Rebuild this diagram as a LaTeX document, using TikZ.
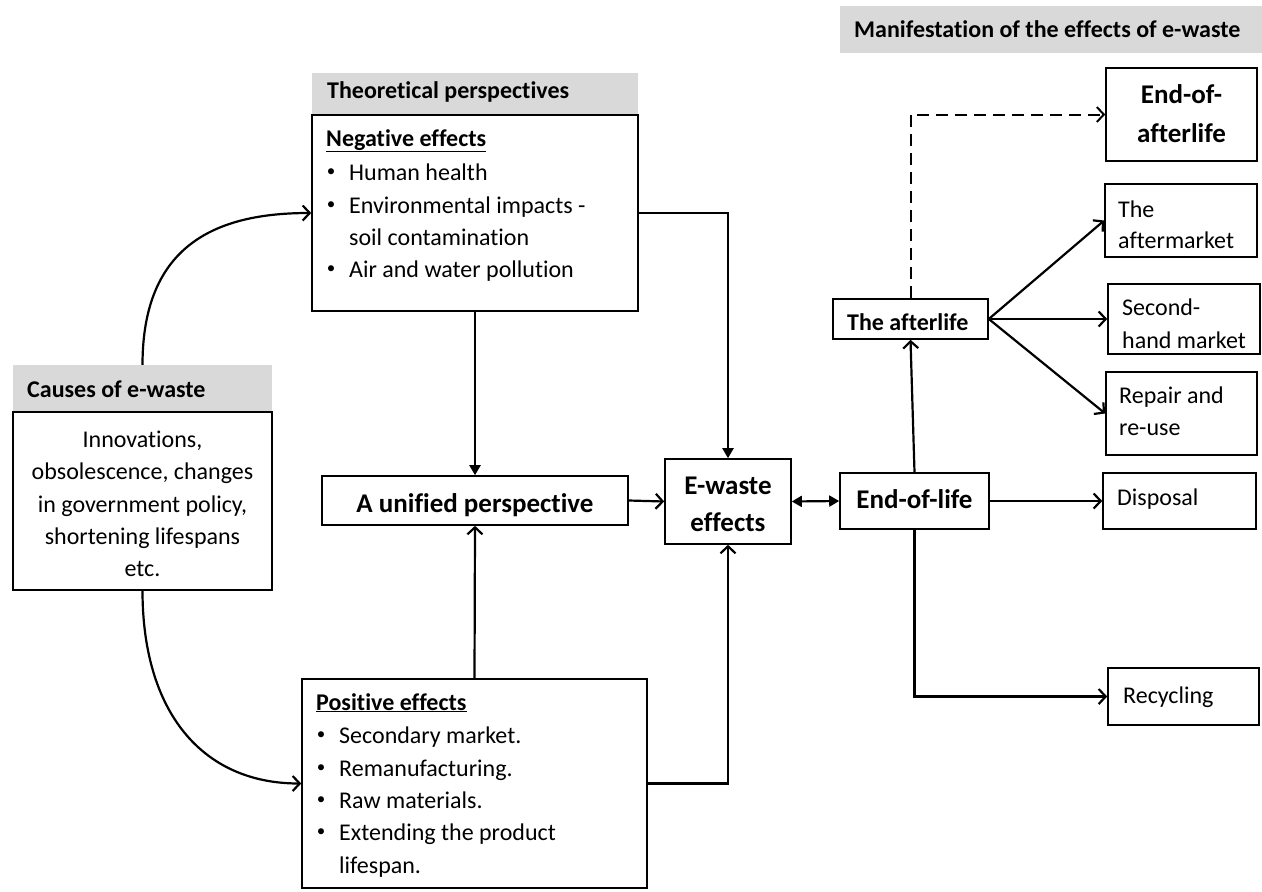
\documentclass[tikz,border=0pt]{standalone}
\usepackage{fontspec}
\setmainfont{Carlito}[Ligatures={NoCommon}]
\usetikzlibrary{arrows.meta}
\definecolor{hdr}{HTML}{D9D9D9}
\newcommand{\bodyf}{\fontsize{24}{29}\selectfont}
\newcommand{\boldf}{\fontsize{24}{29}\selectfont\bfseries}
\newcommand{\bigf}{\fontsize{27}{32}\selectfont\bfseries}
\newcommand{\bulf}{\fontsize{17}{20}\selectfont}
\tikzset{
  box/.style={draw=black, line width=1.6pt, fill=white, inner sep=0pt},
  hbox/.style={fill=hdr, inner sep=0pt},
  con/.style={line width=2.2pt, -{Straight Barb[length=7pt,width=15pt]}},
  fcon/.style={line width=2.2pt, -{Triangle[length=10pt,width=11pt]}},
  dcon/.style={line width=2.2pt, {Triangle[length=10pt,width=11pt]}-{Triangle[length=10pt,width=11pt]}},
  txt/.style={anchor=base west, inner sep=0pt, font=\bodyf},
  ctxt/.style={anchor=base, inner sep=0pt, font=\bodyf},
  bul/.style={anchor=base, inner sep=0pt, font=\bulf},
  htxt/.style={anchor=base west, inner sep=0pt, font=\boldf},
  btxt/.style={anchor=base, inner sep=0pt, font=\bigf},
}
\begin{document}
\begin{tikzpicture}[x=1pt,y=-1pt]
\useasboundingbox[fill=white] (0,0) rectangle (1262,892);

% headers
\node[hbox, minimum width=326pt, minimum height=42pt] (theohdr) at (475,94) {};
\node[hbox, minimum width=259pt, minimum height=47pt] (causehdr) at (142.5,388.5) {};
\node[hbox, minimum width=422pt, minimum height=47pt] (manhdr) at (1051,29.5) {};
\node[htxt] (theot) at (327,98) {Theoretical perspectives};
\node[htxt] (causet) at (27,397) {Causes of e-waste};
\node[htxt] (mant) at (854,37) {Manifestation of the effects of e-waste};

% boxes
\node[box, minimum width=326pt, minimum height=196pt] (neg) at (475,213) {};
\node[box, minimum width=259pt, minimum height=178pt] (causes) at (142.5,501) {};
\node[box, minimum width=345pt, minimum height=209pt] (pos) at (474.5,783.5) {};
\node[box, minimum width=306pt, minimum height=49pt] (unified) at (475,500.5) {};
\node[box, minimum width=126pt, minimum height=85pt] (ew) at (728,501.5) {};
\node[box, minimum width=149pt, minimum height=56pt] (eol) at (914.5,501) {};
\node[box, minimum width=155pt, minimum height=40pt] (after) at (910.5,319) {};
\node[box, minimum width=151pt, minimum height=93pt] (endafter) at (1181.5,114.5) {};
\node[box, minimum width=152pt, minimum height=73pt] (aftermkt) at (1181,220.5) {};
\node[box, minimum width=152pt, minimum height=70pt] (second) at (1184,319) {};
\node[box, minimum width=151pt, minimum height=83pt] (repair) at (1181.5,413.5) {};
\node[box, minimum width=153pt, minimum height=56pt] (disposal) at (1179.5,501) {};
\node[box, minimum width=151pt, minimum height=57pt] (recyc) at (1183.5,696.5) {};

% negative effects text
\node[htxt] (negt) at (326,146) {\underline{Negative effects}};
\node[bul] (nb1) at (331,176) {•};
\node[bul] (nb2) at (331,209) {•};
\node[bul] (nb3) at (331,273) {•};
\node[txt] (n1) at (349,180) {Human health};
\node[txt] (n2) at (349,213) {Environmental impacts -};
\node[txt] (n3) at (349,245) {soil contamination};
\node[txt] (n4) at (349,277) {Air and water pollution};

% positive effects text
\node[htxt] (post) at (316,710) {\underline{Positive effects}};
\node[bul] (pb1) at (321,739) {•};
\node[bul] (pb2) at (321,772) {•};
\node[bul] (pb3) at (321,804) {•};
\node[bul] (pb4) at (321,836) {•};
\node[txt] (p1) at (339,743) {Secondary market.};
\node[txt] (p2) at (339,776) {Remanufacturing.};
\node[txt] (p3) at (339,808) {Raw materials.};
\node[txt] (p4) at (339,840) {Extending the product};
\node[txt] (p5) at (339,873) {lifespan.};

% causes text
\node[ctxt] (c1) at (142.5,447) {Innovations,};
\node[ctxt] (c2) at (142.5,479) {obsolescence, changes};
\node[ctxt] (c3) at (142.5,512) {in government policy,};
\node[ctxt] (c4) at (142.5,544) {shortening lifespans};
\node[ctxt] (c5) at (142.5,576) {etc.};

% bold labels
\node[btxt] (unt) at (475,512) {A unified perspective};
\node[btxt] (ewt1) at (728,494) {E-waste};
\node[btxt] (ewt2) at (728,531) {effects};
\node[btxt] (eolt) at (914.5,508) {End-of-life};
\node[btxt] (eat1) at (1181.5,103) {End-of-};
\node[btxt] (eat2) at (1181.5,142) {afterlife};
\node[htxt] (aftt) at (847,330) {The afterlife};

% right box texts
\node[txt] (am1) at (1118,217) {The};
\node[txt] (am2) at (1118,248) {aftermarket};
\node[txt] (sh1) at (1122,315) {Second-};
\node[txt] (sh2) at (1122,348) {hand market};
\node[txt] (rp1) at (1119,403) {Repair and};
\node[txt] (rp2) at (1119,435) {re-use};
\node[txt] (dit) at (1117,505) {Disposal};
\node[txt] (rct) at (1123,703) {Recycling};

% connectors
\draw[con] (causehdr.north) .. controls +(0,-120) and +(-95,0) .. (neg.west);
\draw[con] (causes.south) .. controls +(0,120) and +(-100,0) .. (pos.west);
\draw[fcon] (neg.south) -- (unified.north);
\draw[con] (pos.north) -- (unified.south);
\draw[fcon] (neg.east) -| (ew.north);
\draw[con] (pos.east) -| (ew.south);
\draw[con] (unified.east) -- (ew.west);
\draw[dcon] (ew.east) -- (eol.west);
\draw[con] (eol.north) -- (after.south);
\draw[con] (eol.east) -- (disposal.west);
\draw[con] (eol.south) |- (recyc.west);
\draw[con] (after.east) -- (aftermkt.west);
\draw[con] (after.east) -- (second.west);
\draw[con] (after.east) -- (repair.west);
\draw[line width=2pt, dash pattern=on 12pt off 7pt, -{Straight Barb[length=7pt,width=15pt]}] (after.north) |- (endafter.west);
\end{tikzpicture}
\end{document}
